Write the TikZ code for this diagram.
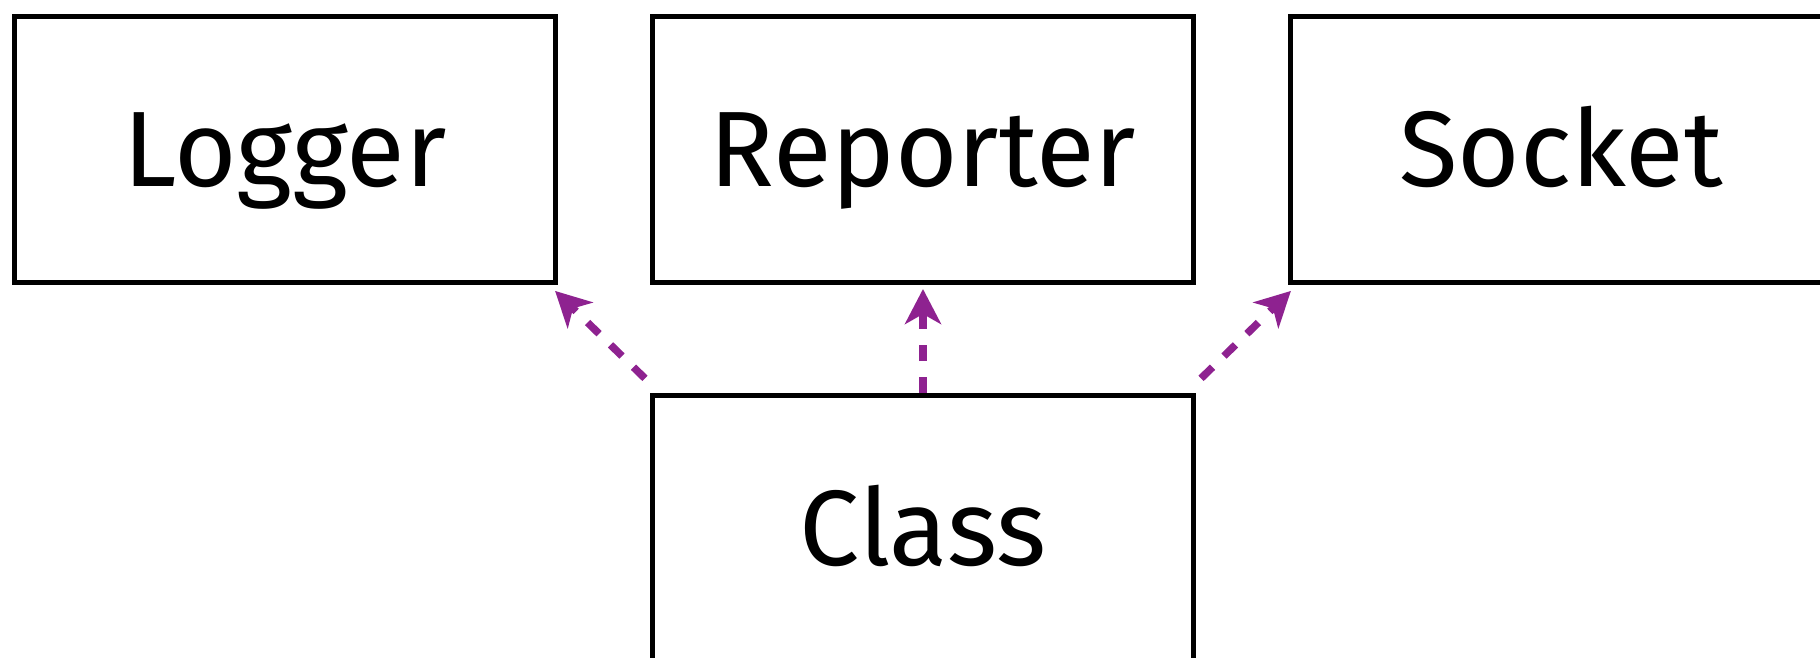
\documentclass[tikz,border=0pt]{standalone}
\usepackage{fontspec}
\setmainfont{Fira Sans}
\usetikzlibrary{arrows.meta}
\definecolor{depviolet}{RGB}{142,34,144}

\begin{document}
\begin{tikzpicture}[
    box/.style={draw, line width=0.05cm, minimum width=5.41cm, minimum height=2.66cm,
        inner sep=0pt, text height=0.74cm, text depth=0pt, font=\fontsize{30.5}{36}\selectfont},
    uses/.style={depviolet, line width=0.075cm, dash pattern=on 0.16cm off 0.16cm,
        -{Stealth[length=0.35cm, width=0.36cm, inset=0.1cm]}}
]
    % Canvas
    \useasboundingbox (0,0) rectangle (18.2,-6.58);

    % Top row
    \node[box] (logger) at (2.85,-1.495) {Logger};
    \node[box] (reporter) at (9.23,-1.495) {Reporter};
    \node[box] (socket) at (15.61,-1.495) {Socket};

    % Class below
    \node[box] (class) at (9.23,-5.285) {Class};

    % Dependencies
    \draw[uses, shorten <=0.21cm, shorten >=0.085cm] ([xshift=0.1cm]class.north west) -- ([xshift=-0.09cm]logger.south east);
    \draw[uses, shorten >=0.04cm] (class.north) -- (reporter.south);
    \draw[uses, shorten <=0.21cm, shorten >=0.085cm] ([xshift=-0.1cm]class.north east) -- ([xshift=0.09cm]socket.south west);

\end{tikzpicture}
\end{document}
